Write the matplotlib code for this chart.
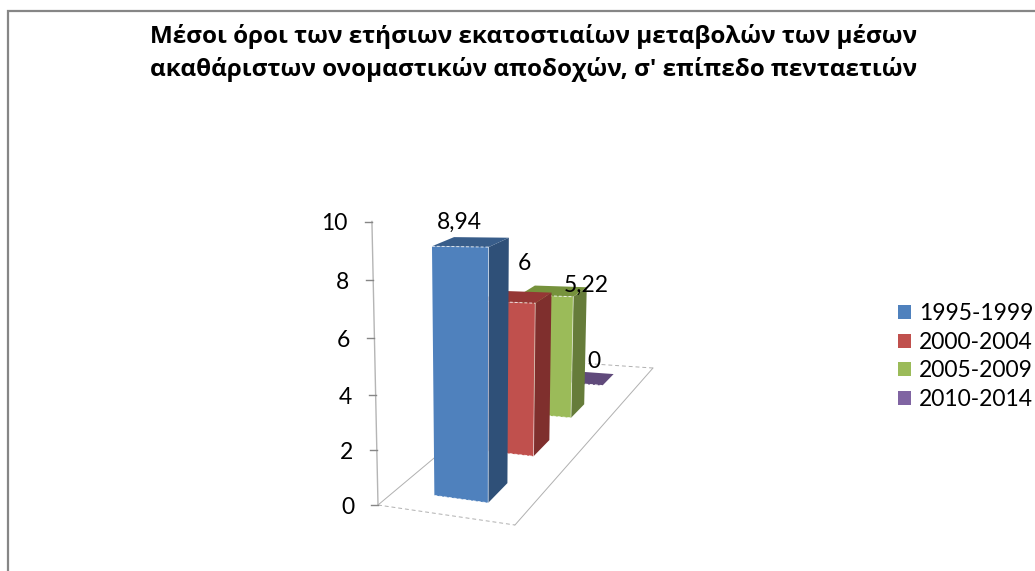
import numpy as np
import matplotlib
matplotlib.use("Agg")
import matplotlib.pyplot as plt
from matplotlib.patches import Polygon, Patch

# data
title = "Μέσοι όροι των ετήσιων εκατοστιαίων μεταβολών των μέσων\nακαθάριστων ονομαστικών αποδοχών, σ' επίπεδο πενταετιών"
periods = ["1995-1999", "2000-2004", "2005-2009", "2010-2014"]
values = [8.94, 6, 5.22, 0]
value_labels = ["8,94", "6", "5,22", "0"]
y_ticks = [0, 2, 4, 6, 8, 10]

# colours: front, side, top
front = ["#4F81BD", "#C0504D", "#9BBB59", "#8064A2"]
side = ["#2F5078", "#7F2F2D", "#667C3A", "#4D3B62"]
top = ["#385D8A", "#953735", "#76923C", "#604A7B"]

# floor of the 3d box in pixels (front left, front right, back right, back left)
a, b, c = 103.9, 400.8, 378.0
d, e, f = -13.7, 6.2, 505.0
g, h = -0.0642, 0.416
flare = 0.00021  # verticals lean away from x=480 the higher they go


def project(u, v, val=0.0):
    w = g * u + h * v + 1
    x = (a * u + b * v + c) / w
    y = (d * u + e * v + f) / w
    # the value scale also stretches a bit towards the top
    rise = (27.0 * val + 0.135 * val ** 2) / w
    return x + (x - 480) * rise * flare, y - rise


def bar(ax, i, val):
    v0 = (i + 0.5) / len(values) - 0.05
    v1 = v0 + 0.1
    u0 = 0.31 - 0.1 * v0
    u1 = 0.705
    fl, fr = project(u0, v0), project(u1, v0)
    br = project(u1, v1)
    tfl, tfr = project(u0, v0, val), project(u1, v0, val)
    tbr, tbl = project(u1, v1, val), project(u0, v1, val)
    z = 10 - i
    ax.add_patch(Polygon([fr, br, tbr, tfr], fc=side[i], ec="none", zorder=z))
    ax.add_patch(Polygon([fl, fr, tfr, tfl], fc=front[i], ec="none", zorder=z))
    ax.add_patch(Polygon([tfl, tfr, tbr, tbl], fc=top[i], ec="none", zorder=z))
    # faint light edges
    xs, ys = zip(tfl, tfr)
    ax.plot(xs, ys, color="white", lw=0.7, ls=(0, (3, 2)), alpha=0.8, zorder=z)
    xs, ys = zip(fr, tfr)
    ax.plot(xs, ys, color="white", lw=0.6, alpha=0.6, zorder=z)
    xs, ys = zip(fl, fr)
    ax.plot(xs, ys, color="white", lw=0.7, ls=(0, (3, 2)), alpha=0.8, zorder=z)


fig = plt.figure(figsize=(10.35, 5.71), dpi=100)
ax = fig.add_axes([0, 0, 1, 1])
ax.set_xlim(0, 1035)
ax.set_ylim(571, 0)
ax.axis("off")

# outer chart frame
ax.plot([8, 8, 1035], [571, 11, 11], color="#868686", lw=1.6, solid_joinstyle="miter")

ax.text(534, 53, title, ha="center", va="center", fontsize=17.5, fontweight="bold",
        family="Open Sans", color="black", linespacing=1.4)

# floor
floor = [project(0, 0), project(1, 0), project(1, 1), project(0, 1)]
for k in range(4):
    p, q = floor[k], floor[(k + 1) % 4]
    ls = (0, (4, 3)) if k in (0, 2) else "-"
    ax.plot([p[0], q[0]], [p[1], q[1]], color="#B0B0B0", lw=0.7, ls=ls, zorder=1)

# value axis
axis_bottom = project(0, 0)
ax_top = project(0, 0, y_ticks[-1])
ax.plot([axis_bottom[0], ax_top[0]], [axis_bottom[1], ax_top[1]], color="#B5B5B5", lw=1.0, zorder=1)
for t in y_ticks:
    tx, ty = project(0, 0, t)
    ax.plot([tx - 7, tx], [ty, ty], color="#868686", lw=1.0, zorder=1)
    ax.text(tx - 24, ty + 2.5, str(t), ha="right", va="center", fontsize=16.5, family="Lato", color="black")

for i in reversed(range(len(values))):
    bar(ax, i, values[i])

# data labels sit where the source placed them
label_xy = [(459, 222), (524, 264), (586, 285), (594, 362)]
for (lx, ly), txt in zip(label_xy, value_labels):
    ax.text(lx, ly, txt, ha="center", va="center", fontsize=16.5, family="Lato", color="black", zorder=20)

handles = [Patch(fc=col, ec="none", label=lab) for col, lab in zip(front, periods)]
ax.legend(handles=handles, loc="center left", bbox_to_anchor=(898 / 1035, 1 - 356.5 / 571),
          bbox_transform=ax.transAxes, frameon=False, ncols=1, handlelength=0.57, handleheight=0.57,
          handletextpad=0.36, labelspacing=0.33, borderpad=0, borderaxespad=0,
          prop={"family": "Lato", "size": 16.5})

fig.savefig("out.png", dpi=100)
